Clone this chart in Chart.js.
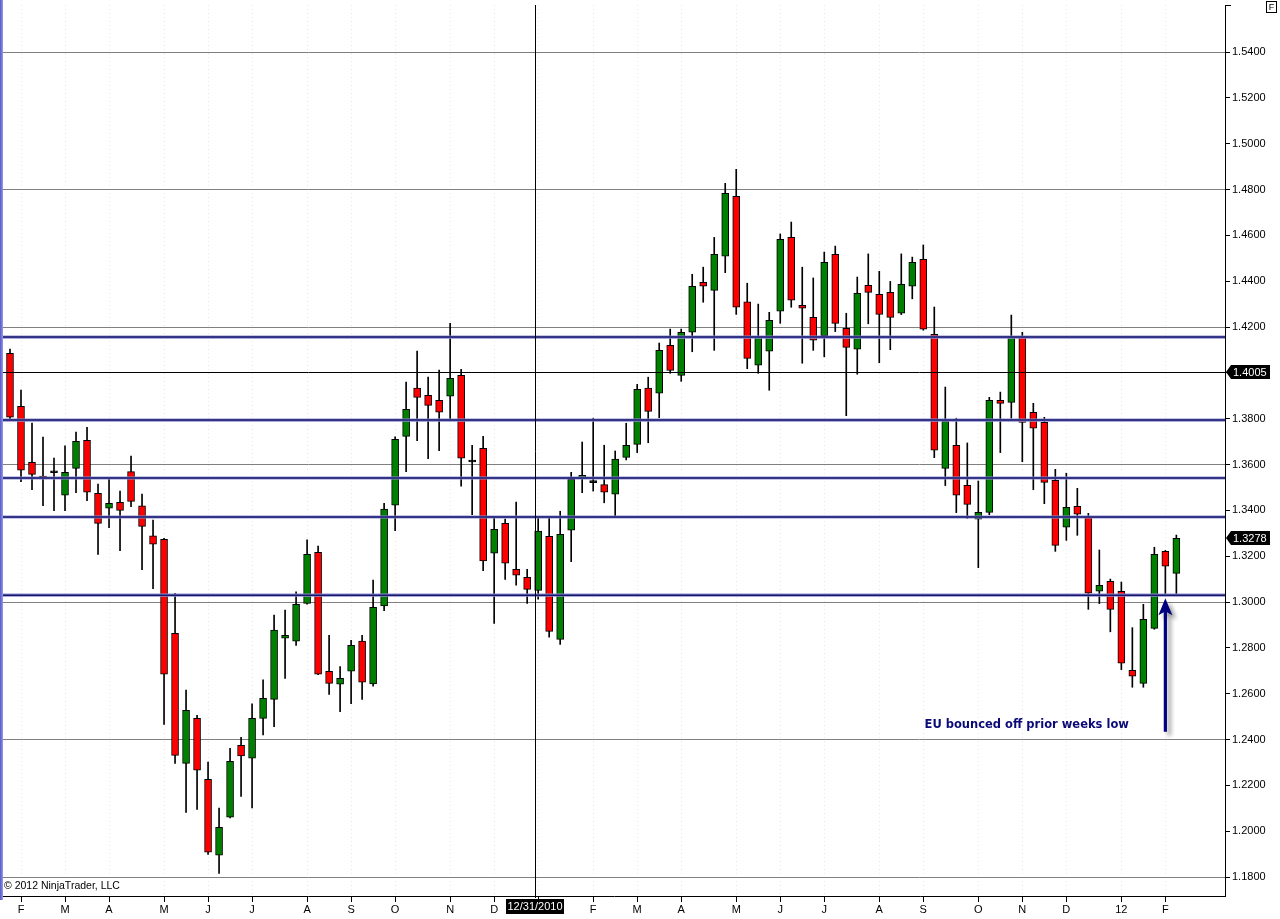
<!DOCTYPE html>
<html><head><meta charset="utf-8">
<script src="https://cdn.jsdelivr.net/npm/chart.js@4.4.0/dist/chart.umd.min.js"></script>
<style>html,body{margin:0;padding:0;background:#fff;overflow:hidden}#wrap{width:1280px;height:919px;position:relative}canvas{display:block}</style>
</head><body><div id="wrap"><canvas id="c" width="1280" height="919"></canvas></div>
<script>
// Weekly EUR/USD candles (Feb 2010 - Feb 2012)
const opens = [1.4085,1.3854,1.3610,1.3550,1.3564,1.3466,1.3583,1.3706,1.3474,1.3409,1.3435,1.3569,1.3420,1.3289,1.3274,1.2863,1.2296,1.2492,1.2226,1.1895,1.2061,1.2375,1.2319,1.2492,1.2575,1.2842,1.2829,1.2994,1.3217,1.2698,1.2641,1.2698,1.2829,1.2642,1.2983,1.3422,1.3723,1.3933,1.3902,1.3880,1.3898,1.3989,1.3611,1.3671,1.3213,1.3343,1.3143,1.3108,1.3051,1.3287,1.2837,1.3313,1.3542,1.3521,1.3512,1.3471,1.3631,1.3688,1.3933,1.3911,1.4120,1.3989,1.4177,1.4395,1.4360,1.4509,1.4770,1.4310,1.4033,1.4094,1.4269,1.4591,1.4295,1.4242,1.4162,1.4517,1.4194,1.4103,1.4382,1.4343,1.4351,1.4260,1.4378,1.4495,1.4168,1.3583,1.3684,1.3509,1.3361,1.3391,1.3880,1.3871,1.4156,1.3828,1.3784,1.3531,1.3326,1.3418,1.3372,1.3047,1.3090,1.3047,1.2702,1.2645,1.2885,1.3221,1.3125];
const highs = [1.4104,1.3925,1.3781,1.3720,1.3628,1.3681,1.3742,1.3762,1.3515,1.3538,1.3484,1.3637,1.3471,1.3358,1.3278,1.3038,1.2616,1.2505,1.2302,1.2101,1.2362,1.2410,1.2556,1.2660,1.2943,1.2965,1.3044,1.3271,1.3244,1.2855,1.2718,1.2833,1.2855,1.3096,1.3431,1.3721,1.3960,1.4095,1.3982,1.4012,1.4216,1.4015,1.3684,1.3723,1.3372,1.3362,1.3436,1.3143,1.3365,1.3374,1.3396,1.3566,1.3698,1.3802,1.3684,1.3659,1.3780,1.3950,1.3981,1.4130,1.4191,1.4191,1.4430,1.4461,1.4591,1.4827,1.4888,1.4391,1.4300,1.4264,1.4606,1.4658,1.4461,1.4414,1.4527,1.4553,1.4260,1.4418,1.4519,1.4443,1.4399,1.4519,1.4505,1.4558,1.4287,1.3938,1.3802,1.3694,1.3528,1.3893,1.3916,1.4252,1.4177,1.3867,1.3806,1.3579,1.3562,1.3496,1.3387,1.3227,1.3100,1.3087,1.2888,1.2990,1.3239,1.3225,1.3292];
const lows = [1.3798,1.3525,1.3490,1.3420,1.3398,1.3398,1.3477,1.3442,1.3208,1.3324,1.3224,1.3416,1.3141,1.3058,1.2466,1.2296,1.2082,1.2095,1.1899,1.1816,1.2058,1.2152,1.2101,1.2420,1.2456,1.2667,1.2811,1.2990,1.2683,1.2597,1.2521,1.2556,1.2575,1.2633,1.2962,1.3311,1.3569,1.3704,1.3625,1.3660,1.3797,1.3505,1.3381,1.3137,1.2907,1.3099,1.3073,1.2994,1.3012,1.2846,1.2815,1.3176,1.3477,1.3484,1.3433,1.3371,1.3620,1.3652,1.3695,1.3804,1.3998,1.3963,1.4092,1.4308,1.4098,1.4437,1.4255,1.4018,1.3998,1.3924,1.4216,1.4286,1.4042,1.4098,1.4070,1.4180,1.3813,1.3994,1.4214,1.4044,1.4101,1.4254,1.4323,1.4186,1.3630,1.3508,1.3390,1.3365,1.3150,1.3381,1.3652,1.3802,1.3612,1.3490,1.3429,1.3221,1.3269,1.3291,1.2968,1.2993,1.2870,1.2705,1.2628,1.2628,1.2881,1.3029,1.3029];
const closes = [1.3806,1.3575,1.3557,1.3537,1.3564,1.3566,1.3701,1.3479,1.3343,1.3431,1.3400,1.3439,1.3330,1.3252,1.2685,1.2331,1.2527,1.2266,1.1908,1.2017,1.2305,1.2328,1.2492,1.2580,1.2878,1.2855,1.2990,1.3208,1.2685,1.2645,1.2667,1.2811,1.2650,1.2977,1.3405,1.3710,1.3841,1.3893,1.3858,1.3828,1.3976,1.3628,1.3611,1.3179,1.3317,1.3169,1.3117,1.3055,1.3309,1.2872,1.3295,1.3535,1.3553,1.3521,1.3479,1.3624,1.3684,1.3928,1.3832,1.4098,1.4011,1.4177,1.4378,1.4378,1.4517,1.4783,1.4287,1.4063,1.4158,1.4229,1.4583,1.4317,1.4282,1.4142,1.4482,1.4216,1.4111,1.4347,1.4351,1.4255,1.4242,1.4386,1.4482,1.4190,1.3662,1.3790,1.3466,1.3426,1.3391,1.3880,1.3867,1.4156,1.3784,1.3758,1.3522,1.3247,1.3413,1.3383,1.3038,1.3073,1.2968,1.2733,1.2676,1.2924,1.3208,1.3156,1.3278];

const monthTickIdx = [1,5,9,14,18,22,27,31,35,40,44,48,53,57,61,66,70,74,79,83,88,92,96,101,105];
const monthTickLabels = ['F','M','A','M','J','J','A','S','O','N','D','J','F','M','A','M','J','J','A','S','O','N','D','12','F'];

const levels = [1.4156,1.3794,1.3541,1.3371,1.3030];
const crosshairPrice = 1.4005;
const crosshairIdx = 47.75;
const crosshairDate = '12/31/2010';
const lastPrice = 1.3278;
const noteText = 'EU bounced off prior weeks low';
const noteIdx = 92.4, notePrice = 1.2463;
const arrowIdx = 105, arrowTip = 1.3016, arrowTail = 1.2434;

const X_MIN = -0.636, X_MAX = 110.42;
const Y_MIN = 1.17171, Y_MAX = 1.56051;
const Y_LABEL_TOP = 1.54;

const bodyColors = opens.map((o,i)=> closes[i] > o ? '#008000' : (closes[i] < o ? '#ff0000' : '#000000'));
const bodies = opens.map((o,i)=>({x:i, y:[Math.min(o,closes[i]), Math.max(o,closes[i])]}));
const wicks = lows.map((l,i)=>({x:i, y:[l, highs[i]]}));

const datasets = [];
levels.forEach(v=>{
  datasets.push({type:'line', data:[{x:X_MIN,y:v},{x:X_MAX,y:v}], borderColor:'#16166e', borderWidth:1.5, pointRadius:0, order:0});
  datasets.push({type:'line', data:[{x:X_MIN,y:v},{x:X_MAX,y:v}], borderColor:'#8e8ecf', borderWidth:3.2, pointRadius:0, order:1});
});
datasets.push({type:'bar', data:bodies, backgroundColor:bodyColors, borderColor:'#000', borderWidth:1, borderSkipped:false, barThickness:7, minBarLength:2, grouped:false, order:2});
datasets.push({type:'bar', data:wicks, backgroundColor:'#000', borderWidth:0, barThickness:1, grouped:false, order:3});

const FONT = 'Liberation Sans';

const overlay = {
  id:'overlay',
  afterDatasetsDraw(chart){
    const ctx = chart.ctx, xs = chart.scales.x, ys = chart.scales.y, a = chart.chartArea;
    ctx.save();
    // crosshair
    ctx.strokeStyle = '#000'; ctx.lineWidth = 1;
    const hy = Math.round(ys.getPixelForValue(crosshairPrice)) + 0.5;
    ctx.beginPath(); ctx.moveTo(a.left, hy); ctx.lineTo(a.right, hy); ctx.stroke();
    const vx = Math.round(xs.getPixelForValue(crosshairIdx)) + 0.5;
    ctx.beginPath(); ctx.moveTo(vx, a.top); ctx.lineTo(vx, a.bottom + 2); ctx.stroke();
    // arrow
    const ax = xs.getPixelForValue(arrowIdx), ty = ys.getPixelForValue(arrowTip), by = ys.getPixelForValue(arrowTail);
    ctx.shadowColor = 'rgba(0,0,0,0.4)'; ctx.shadowBlur = 4; ctx.shadowOffsetX = 4; ctx.shadowOffsetY = 4;
    ctx.fillStyle = '#00007f';
    ctx.beginPath();
    ctx.moveTo(ax, ty); ctx.lineTo(ax+7, ty+17); ctx.lineTo(ax+1.6, ty+14); ctx.lineTo(ax+1.6, by);
    ctx.lineTo(ax-1.6, by); ctx.lineTo(ax-1.6, ty+14); ctx.lineTo(ax-7, ty+17); ctx.closePath(); ctx.fill();
    ctx.shadowColor = 'transparent';
    // note
    ctx.font = 'bold 11.5px "DejaVu Sans"'; ctx.fillStyle = '#0a0a78';
    ctx.textAlign = 'center'; ctx.textBaseline = 'middle';
    ctx.fillText(noteText, xs.getPixelForValue(noteIdx), ys.getPixelForValue(notePrice));
    // copyright
    ctx.font = '10.5px "' + FONT + '"'; ctx.fillStyle = '#000'; ctx.textAlign = 'left';
    ctx.fillText('\u00a9 2012 NinjaTrader, LLC', a.left + 1, a.bottom - 10);
    ctx.restore();
  },
  afterDraw(chart){
    const ctx = chart.ctx, xs = chart.scales.x, ys = chart.scales.y, a = chart.chartArea;
    ctx.save();
    // left strip
    const g = ctx.createLinearGradient(0,0,3,0); g.addColorStop(0,'#5555cc'); g.addColorStop(1,'#9a9ae6');
    ctx.fillStyle = g; ctx.fillRect(0, 0, 3, a.bottom + 4);
    // top tick on axis
    ctx.strokeStyle = '#000'; ctx.lineWidth = 1;
    ctx.beginPath(); ctx.moveTo(a.right, a.top + 0.5); ctx.lineTo(a.right + 6, a.top + 0.5); ctx.stroke();
    // price boxes
    ctx.font = '11px "' + FONT + '"'; ctx.textBaseline = 'middle'; ctx.textAlign = 'left';
    [crosshairPrice, lastPrice].forEach(p=>{
      const y = Math.round(ys.getPixelForValue(p));
      ctx.fillStyle = '#000';
      ctx.beginPath(); ctx.moveTo(a.right + 1, y); ctx.lineTo(a.right + 6, y - 7); ctx.lineTo(a.right + 45, y - 7);
      ctx.lineTo(a.right + 45, y + 7); ctx.lineTo(a.right + 6, y + 7); ctx.closePath(); ctx.fill();
      ctx.fillStyle = '#fff'; ctx.fillText(p.toFixed(4), a.right + 8, y + 0.5);
    });
    // date box
    const vx = Math.round(xs.getPixelForValue(crosshairIdx));
    ctx.fillStyle = '#000'; ctx.fillRect(vx - 29, a.bottom + 3, 58, 15);
    ctx.fillStyle = '#fff'; ctx.textAlign = 'center';
    ctx.fillText(crosshairDate, vx, a.bottom + 11);
    // F box
    ctx.fillStyle = '#fff'; ctx.fillRect(1266.5, 1.5, 10, 11);
    ctx.strokeStyle = '#000'; ctx.strokeRect(1266.5, 1.5, 10, 11);
    ctx.fillStyle = '#000'; ctx.font = '9px "' + FONT + '"'; ctx.fillText('F', 1271.5, 7.5);
    ctx.restore();
  }
};

new Chart(document.getElementById('c'), {
  type:'bar',
  data:{datasets},
  options:{
    responsive:false, animation:false, devicePixelRatio:1,
    layout:{padding:{left:3, top:5, right:0, bottom:0}},
    plugins:{legend:{display:false}, tooltip:{enabled:false}},
    scales:{
      x:{
        type:'linear', min:X_MIN, max:X_MAX, offset:false,
        afterBuildTicks:(s)=>{ s.ticks = monthTickIdx.map(v=>({value:v})); },
        afterFit:(s)=>{ s.height = 23; s.paddingLeft = 0; s.paddingRight = 0; },
        grid:{offset:false, color:'rgba(235,170,120,0.3)', lineWidth:1, tickColor:'#000', tickLength:6, drawTicks:true},
        border:{display:true, color:'#000', width:1, dash:[1,3]},
        ticks:{autoSkip:false, maxRotation:0, padding:1, color:'#000', font:{family:FONT, size:11},
          callback:(v,i)=>monthTickLabels[i]}
      },
      y:{
        type:'linear', position:'right', min:Y_MIN, max:Y_MAX,
        afterBuildTicks:(s)=>{ s.ticks = s.ticks.filter(t=>t.value <= Y_LABEL_TOP + 0.001); },
        afterFit:(s)=>{ s.width = 55; s.paddingTop = 0; s.paddingBottom = 0; },
        grid:{color:(c)=> (Math.round(c.tick.value/0.02) % 3 === 2) ? '#808080' : 'rgba(0,0,0,0)', lineWidth:1, tickColor:'#000', tickLength:5},
        border:{display:true, color:'#000', width:1},
        ticks:{stepSize:0.02, includeBounds:false, padding:2, color:'#000', font:{family:FONT, size:11},
          callback:(v)=>v.toFixed(4)}
      }
    }
  },
  plugins:[overlay]
});
</script></body></html>
